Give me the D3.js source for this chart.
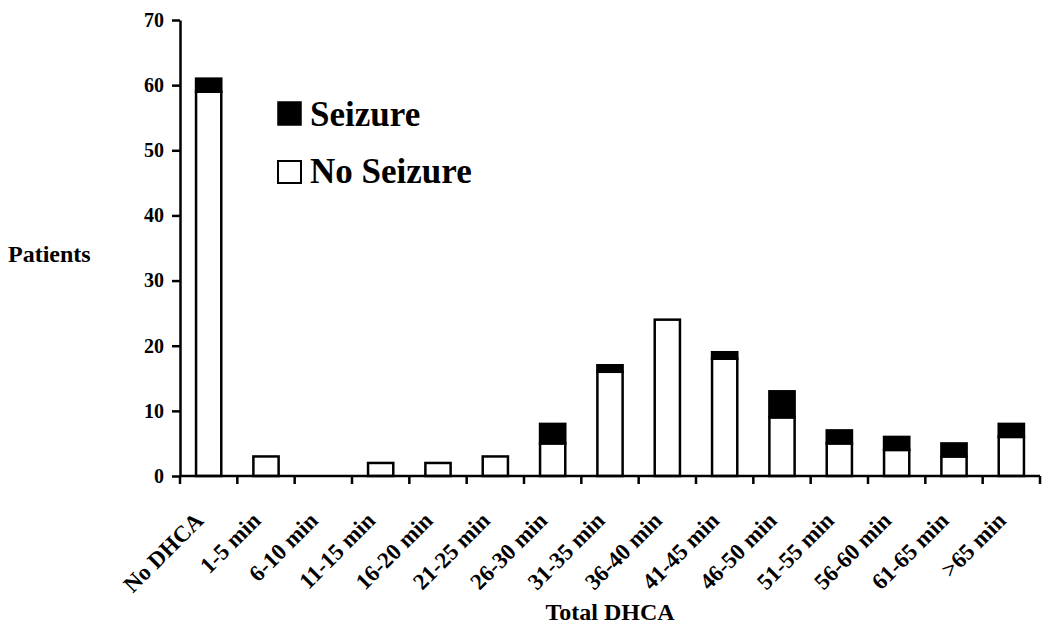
<!DOCTYPE html>
<html><head><meta charset="utf-8">
<script src="https://cdn.jsdelivr.net/npm/d3@7"></script>
<style>body{margin:0;background:#fff}svg{display:block}text{font-family:"Liberation Serif","Times New Roman",serif;font-weight:bold;fill:#000}</style>
</head><body>
<script>
const categories = ["No DHCA","1-5 min","6-10 min","11-15 min","16-20 min","21-25 min","26-30 min","31-35 min","36-40 min","41-45 min","46-50 min","51-55 min","56-60 min","61-65 min",">65 min"];
const noSeizure = [59,3,0,2,2,3,5,16,24,18,9,5,4,3,6];
const seizure   = [2,0,0,0,0,0,3,1,0,1,4,2,2,2,2];
const yTicks = [0,10,20,30,40,50,60,70];

const W=1050,H=636;
const svg=d3.select("body").append("svg").attr("width",W).attr("height",H);
const x=d3.scaleBand().domain(categories).range([180,1040]).paddingInner(0.56).paddingOuter(0.28);
const y=d3.scaleLinear().domain([0,70]).range([476,20]);

const data=categories.map((c,i)=>({c,ns:noSeizure[i],s:seizure[i]}));
const g=svg.append("g");
data.forEach(d=>{
  if(d.ns>0) g.append("rect").attr("x",x(d.c)).attr("width",x.bandwidth()).attr("y",y(d.ns)).attr("height",y(0)-y(d.ns)).attr("fill","#fff").attr("stroke","#000").attr("stroke-width",2.5);
  if(d.s>0) g.append("rect").attr("x",x(d.c)).attr("width",x.bandwidth()).attr("y",y(d.ns+d.s)).attr("height",y(d.ns)-y(d.ns+d.s)).attr("fill","#000").attr("stroke","#000").attr("stroke-width",2.5);
});

// y axis
const ya=svg.append("g").attr("transform","translate(180,0)").call(d3.axisLeft(y).tickValues(yTicks).tickSize(8).tickPadding(8).tickSizeOuter(0));
ya.select(".domain").attr("stroke-width",2.5);
ya.selectAll(".tick line").attr("stroke-width",2.5);
ya.selectAll(".tick text").style("font-size","20px").style("font-family","Liberation Serif").style("font-weight","bold");

// x axis line and boundary ticks
const xa=svg.append("g").attr("transform","translate(0,476)");
xa.append("line").attr("x1",180).attr("x2",1040).attr("stroke","#000").attr("stroke-width",2.5);
const bounds=d3.range(categories.length+1).map(i=>i===categories.length? x.range()[1] : x(categories[i]) - (x.step()-x.bandwidth())/2);
bounds.forEach(b=>xa.append("line").attr("x1",b).attr("x2",b).attr("y1",0).attr("y2",8).attr("stroke","#000").attr("stroke-width",2.5));
categories.forEach(c=>{
  const cx=x(c)+x.bandwidth()/2;
  svg.append("text").attr("transform",`translate(${cx-4},522) rotate(-45)`).attr("text-anchor","end").style("font-size","23px").text(c);
});

svg.append("text").attr("x",610).attr("y",620).attr("text-anchor","middle").style("font-size","24px").text("Total DHCA");
svg.append("text").attr("x",8).attr("y",262).style("font-size","24px").text("Patients");

// legend
svg.append("rect").attr("x",278).attr("y",102).attr("width",23).attr("height",23).attr("fill","#000").attr("stroke","#000").attr("stroke-width",1.5);
svg.append("text").attr("x",310).attr("y",126).style("font-size","35px").text("Seizure");
svg.append("rect").attr("x",278).attr("y",161).attr("width",23).attr("height",22).attr("fill","#fff").attr("stroke","#000").attr("stroke-width",2);
svg.append("text").attr("x",310).attr("y",183).style("font-size","35px").text("No Seizure");
</script>
</body></html>
